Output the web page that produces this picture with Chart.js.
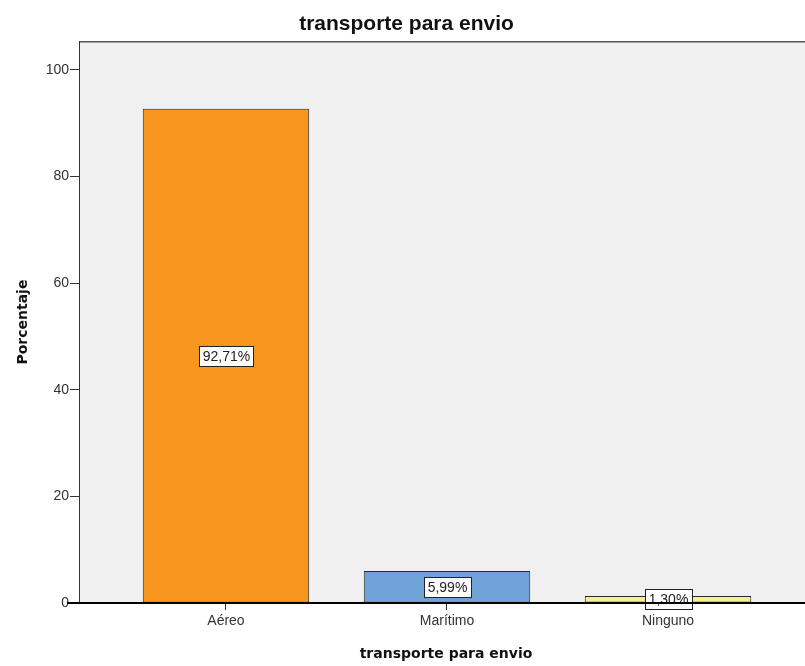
<!DOCTYPE html>
<html>
<head>
<meta charset="utf-8">
<script src="https://cdn.jsdelivr.net/npm/chart.js@4"></script>
<style>
  html, body { margin: 0; padding: 0; background: #ffffff; overflow: hidden; }
  body { width: 805px; height: 666px; }
</style>
</head>
<body>
<canvas id="c" width="813" height="666"></canvas>
<script>
// Categories and percentages
const categories = ['Aéreo', 'Marítimo', 'Ninguno'];
const percentages = [92.71, 5.99, 1.30];
const barColors = ['#f7951d', '#6fa3d8', '#f2f28e'];
const yTicks = [0, 20, 40, 60, 80, 100];

const SANS = "'Liberation Sans', Arial, sans-serif";
const WIDE = "'DejaVu Sans', Verdana, sans-serif";

function formatPct(v) {
  return v.toFixed(2).replace('.', ',') + '%';
}

// Plot background, frame and zero baseline
const framePlugin = {
  id: 'frame',
  beforeDraw(chart) {
    const { ctx, chartArea: a } = chart;
    ctx.save();
    ctx.fillStyle = '#f0f0f0';
    ctx.fillRect(a.left, a.top, a.right - a.left, a.bottom - a.top);
    ctx.restore();
  },
  afterDraw(chart) {
    const { ctx, chartArea: a } = chart;
    ctx.save();
    ctx.strokeStyle = '#555555';
    ctx.lineWidth = 1.5;
    ctx.beginPath();
    ctx.moveTo(a.left, a.top + 0.5);
    ctx.lineTo(a.right, a.top + 0.5);
    ctx.stroke();
    ctx.strokeStyle = '#333333';
    ctx.lineWidth = 1;
    ctx.beginPath();
    ctx.moveTo(a.left + 0.5, a.top);
    ctx.lineTo(a.left + 0.5, a.bottom);
    ctx.stroke();
    const y0 = chart.scales.y.getPixelForValue(0);
    ctx.strokeStyle = '#000000';
    ctx.lineWidth = 2;
    ctx.beginPath();
    ctx.moveTo(a.left - 12, y0);
    ctx.lineTo(a.right, y0);
    ctx.stroke();
    ctx.restore();
  }
};

// Boxed value labels centred on each bar
const valueLabels = {
  id: 'valueLabels',
  afterDatasetsDraw(chart) {
    const { ctx } = chart;
    const meta = chart.getDatasetMeta(0);
    ctx.save();
    ctx.font = '14px ' + SANS;
    ctx.textAlign = 'center';
    ctx.textBaseline = 'middle';
    meta.data.forEach((bar, i) => {
      const txt = formatPct(percentages[i]);
      const w = Math.round(ctx.measureText(txt).width + 7);
      const h = 20;
      const cx = Math.round(bar.x);
      const cy = Math.round((bar.y + bar.base) / 2);
      const x0 = Math.round(cx - w / 2);
      const y0 = Math.round(cy - h / 2);
      ctx.fillStyle = '#ffffff';
      ctx.fillRect(x0, y0, w, h);
      ctx.strokeStyle = '#222222';
      ctx.lineWidth = 1;
      ctx.strokeRect(x0 + 0.5, y0 + 0.5, w, h);
      ctx.fillStyle = '#222222';
      ctx.fillText(txt, cx + 0.5, cy + 1);
    });
    ctx.restore();
  }
};

new Chart(document.getElementById('c'), {
  type: 'bar',
  data: {
    datasets: [{
      data: percentages.map((v, i) => ({ x: i, y: v })),
      backgroundColor: barColors,
      borderColor: '#2a2a2a',
      borderWidth: 1,
      borderSkipped: false,
      categoryPercentage: 1,
      barPercentage: 0.753
    }]
  },
  options: {
    responsive: false,
    animation: false,
    events: [],
    layout: { padding: 0 },
    plugins: {
      legend: { display: false },
      tooltip: { enabled: false },
      title: {
        display: true,
        text: 'transporte para envio',
        color: '#111111',
        font: { family: SANS, size: 21, weight: 'bold' },
        padding: { top: 12, bottom: 4 }
      }
    },
    scales: {
      x: {
        type: 'linear',
        offset: false,
        min: -0.665,
        max: 2.656,
        afterBuildTicks(scale) {
          scale.ticks = categories.map((_, i) => ({ value: i }));
        },
        afterFit(scale) { scale.height = 63; },
        ticks: {
          color: '#333333',
          font: { family: SANS, size: 14 },
          padding: 3,
          maxRotation: 0,
          autoSkip: false,
          callback: (v) => categories[v]
        },
        grid: { drawOnChartArea: false, offset: false, tickLength: 7, color: '#333333' },
        border: { display: false },
        title: {
          display: true,
          text: 'transporte para envio',
          color: '#111111',
          font: { family: WIDE, size: 14, weight: 'bold' },
          padding: { top: 0, bottom: 3 }
        }
      },
      y: {
        min: 0,
        max: 105.4,
        afterBuildTicks(scale) {
          scale.ticks = yTicks.map(v => ({ value: v }));
        },
        afterFit(scale) { scale.width = 79; },
        ticks: {
          color: '#333333',
          font: { family: SANS, size: 14 },
          padding: 1
        },
        grid: { drawOnChartArea: false, tickLength: 9, color: '#333333' },
        border: { display: false },
        title: {
          display: true,
          text: 'Porcentaje',
          color: '#111111',
          font: { family: WIDE, size: 14, weight: 'bold' },
          padding: { top: 15, bottom: 0 }
        }
      }
    }
  },
  plugins: [framePlugin, valueLabels]
});
</script>
</body>
</html>
